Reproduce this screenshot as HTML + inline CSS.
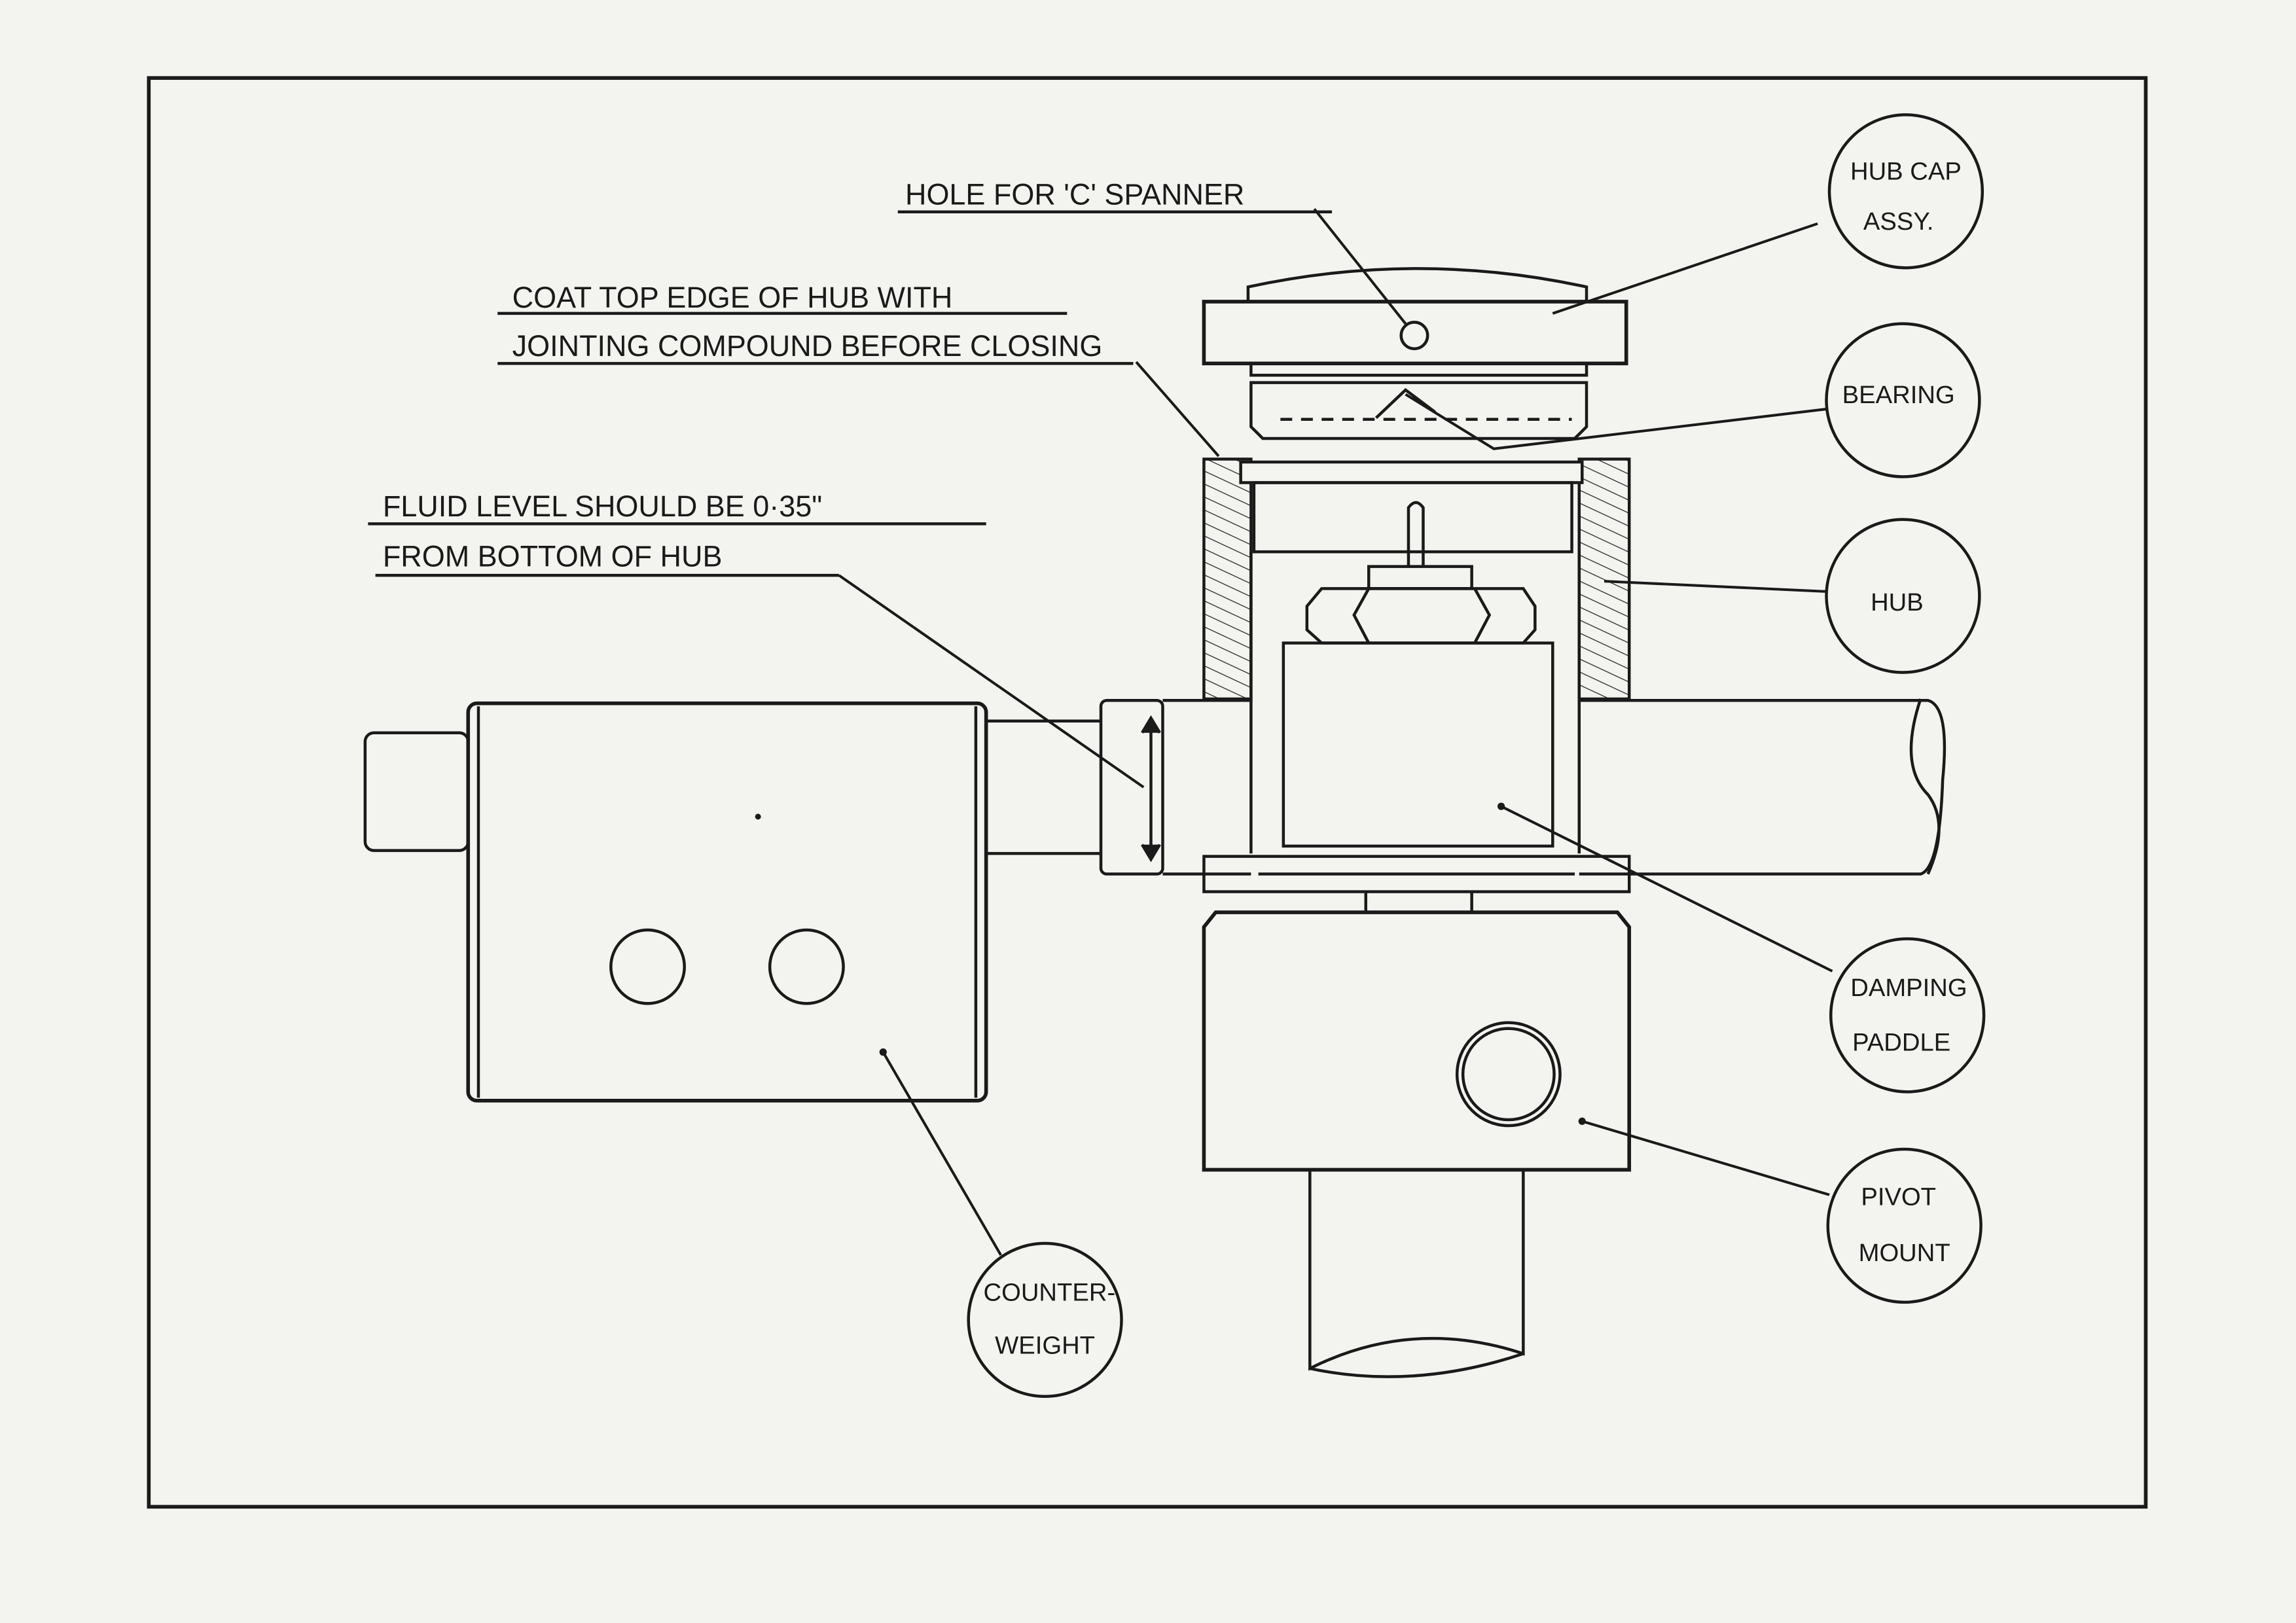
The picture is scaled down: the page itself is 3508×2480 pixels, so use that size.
<!DOCTYPE html>
<html><head><style>
html,body{margin:0;padding:0;background:#f3f3ef;}
svg{display:block}
text{font-family:"Liberation Sans",sans-serif;fill:#1a1a1a;}
</style></head><body>
<svg width="3508" height="2480" viewBox="0 0 1560 1103" xmlns="http://www.w3.org/2000/svg">
<defs>
<pattern id="h" width="8" height="8" patternUnits="userSpaceOnUse" patternTransform="rotate(25)">
<line x1="0" y1="0" x2="8" y2="0" stroke="#333" stroke-width="1.2"/></pattern>
</defs>
<rect width="1560" height="1103" fill="#f3f3ef"/>
<g fill="none" stroke="#1a1a1a" stroke-width="2">
<rect x="101" y="53" width="1357" height="971" stroke-width="2.5"/>
<!-- underlines -->
<line x1="610" y1="144" x2="905" y2="144"/>
<line x1="338" y1="213" x2="725" y2="213"/>
<line x1="338" y1="247" x2="770" y2="247"/>
<line x1="250" y1="356" x2="670" y2="356"/>
<line x1="255" y1="391" x2="570" y2="391"/>
<!-- hub cap -->
<path d="M848,205 L848,195 Q963,170 1078,195 L1078,205"/>
<rect x="818" y="205" width="287" height="42" stroke-width="2.5"/>
<circle cx="961" cy="228" r="9"/>
<rect x="850" y="247" width="228" height="8"/>
<path d="M850,260 L1078,260 L1078,290 L1070,298 L858,298 L850,290 Z"/>
<line x1="870" y1="285" x2="1068" y2="285" stroke-dasharray="8,6"/>
<path d="M935,284 L955,265 L975,280"/>
<!-- hub -->
<rect x="818" y="312" width="32" height="163" fill="url(#h)"/>
<rect x="1073" y="312" width="34" height="163" fill="url(#h)"/>
<rect x="843" y="314" width="232" height="14" fill="#f3f3ef"/>
<rect x="852" y="328" width="216" height="47"/>
<line x1="850" y1="375" x2="850" y2="580"/>
<line x1="1073" y1="375" x2="1073" y2="580"/>
<path d="M957,385 L957,345 Q962,338 967,345 L967,385"/>
<rect x="930" y="385" width="70" height="15"/>
<path d="M898,400 L1035,400 L1043,412 L1043,428 L1035,437 L898,437 L888,428 L888,412 Z"/>
<path d="M930,400 L920,418 L930,437 M1002,400 L1012,418 L1002,437"/>
<rect x="872" y="437" width="183" height="138"/>
<!-- shaft -->
<path d="M790,476 L850,476 M1073,476 L1310,476 Q1325,480 1320,530 Q1318,590 1305,594 L1073,594 M850,594 L790,594"/>
<path d="M1305,475 Q1290,520 1310,540 Q1325,560 1310,594"/>
<rect x="748" y="476" width="42" height="118" rx="4"/>
<line x1="782" y1="490" x2="782" y2="582"/>
<path d="M776,498 L782,488 L788,498 M776,574 L782,584 L788,574" fill="#1a1a1a"/>
<rect x="818" y="582" width="289" height="24"/>
<line x1="855" y1="594" x2="1070" y2="594"/>
<line x1="928" y1="606" x2="928" y2="620"/><line x1="1000" y1="606" x2="1000" y2="620"/>
<!-- pivot mount -->
<path d="M818,795 L818,630 L826,620 L1099,620 L1107,630 L1107,795 Z" stroke-width="2.5"/>
<circle cx="1025" cy="730" r="35"/><circle cx="1025" cy="730" r="31"/>
<path d="M890,795 L890,930 Q960,895 1035,920 L1035,795"/>
<path d="M890,930 Q960,945 1035,920"/>
<!-- counterweight -->
<rect x="248" y="498" width="70" height="80" rx="6"/>
<rect x="318" y="478" width="352" height="270" rx="6" stroke-width="2.5"/>
<line x1="325" y1="480" x2="325" y2="746"/><line x1="663" y1="480" x2="663" y2="746"/>
<line x1="670" y1="490" x2="748" y2="490"/><line x1="670" y1="580" x2="748" y2="580"/>
<circle cx="440" cy="657" r="25"/><circle cx="548" cy="657" r="25"/>
<!-- label circles -->
<circle cx="1295" cy="130" r="52"/>
<circle cx="1293" cy="272" r="52"/>
<circle cx="1293" cy="405" r="52"/>
<circle cx="1296" cy="690" r="52"/>
<circle cx="1294" cy="833" r="52"/>
<circle cx="710" cy="897" r="52"/>
<!-- leaders -->
<g stroke-width="1.8">
<line x1="893" y1="142" x2="955" y2="220"/>
<line x1="1235" y1="152" x2="1055" y2="213"/>
<polyline points="1241,278 1015,305 955,268"/>
<line x1="772" y1="246" x2="828" y2="310"/>
<line x1="1241" y1="402" x2="1090" y2="395"/>
<line x1="570" y1="391" x2="777" y2="535"/>
<line x1="1245" y1="660" x2="1020" y2="548"/>
<line x1="1243" y1="812" x2="1075" y2="762"/>
<line x1="680" y1="853" x2="600" y2="715"/>
</g>
</g>
<g fill="#1a1a1a">
<circle cx="515" cy="555" r="2"/><circle cx="600" cy="715" r="2.5"/><circle cx="1020" cy="548" r="2.5"/><circle cx="1075" cy="762" r="2.5"/>
</g>
<g font-size="20">
<text x="615" y="139">HOLE FOR 'C' SPANNER</text>
<text x="348" y="209">COAT  TOP EDGE OF HUB WITH</text>
<text x="348" y="242">JOINTING  COMPOUND BEFORE CLOSING</text>
<text x="260" y="351">FLUID  LEVEL  SHOULD  BE  0·35"</text>
<text x="260" y="385">FROM  BOTTOM  OF  HUB</text>
</g>
<g font-size="17" text-anchor="middle">
<text x="1295" y="122">HUB CAP</text><text x="1290" y="156">ASSY.</text>
<text x="1290" y="274">BEARING</text>
<text x="1289" y="415">HUB</text>
<text x="1297" y="677">DAMPING</text><text x="1292" y="714">PADDLE</text>
<text x="1290" y="819">PIVOT</text><text x="1294" y="857">MOUNT</text>
<text x="713" y="884">COUNTER-</text><text x="710" y="920">WEIGHT</text>
</g>
</svg>
</body></html>
